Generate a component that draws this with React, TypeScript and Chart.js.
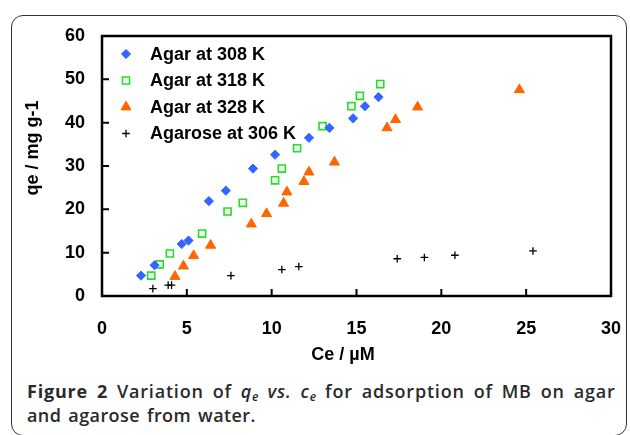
import React, { useEffect, useRef } from 'react';
import { Chart, registerables } from 'chart.js';

Chart.register(...registerables);

const seriesLabels = ['Agar at 308 K', 'Agar at 318 K', 'Agar at 328 K', 'Agarose at 306 K'];
const seriesColors = ['#3366ff', '#22e022', '#ff6600', '#000000'];

const agar308Ce = [2.3, 3.1, 4.7, 5.1, 6.3, 7.3, 8.9, 10.2, 12.2, 13.4, 14.8, 15.5, 16.3];
const agar308Qe = [4.7, 7.1, 12.0, 12.8, 21.9, 24.3, 29.4, 32.6, 36.5, 38.8, 41.0, 43.8, 45.9];

const agar318Ce = [2.9, 3.4, 4.0, 5.9, 7.4, 8.3, 10.2, 10.6, 11.5, 13.0, 14.7, 15.2, 16.4];
const agar318Qe = [4.7, 7.3, 9.8, 14.4, 19.5, 21.5, 26.7, 29.4, 34.1, 39.2, 43.8, 46.2, 48.9];

const agar328Ce = [4.3, 4.8, 5.4, 6.4, 8.8, 9.7, 10.7, 10.9, 11.9, 12.2, 13.7, 16.8, 17.3, 18.6, 24.6];
const agar328Qe = [4.5, 6.9, 9.3, 11.7, 16.6, 19.0, 21.4, 24.0, 26.4, 28.6, 30.9, 38.8, 40.7, 43.6, 47.6];

const agarose306Ce = [3.0, 3.9, 4.1, 7.6, 10.6, 11.6, 17.4, 19.0, 20.8, 25.4];
const agarose306Qe = [1.7, 2.5, 2.5, 4.7, 6.1, 6.8, 8.6, 8.9, 9.4, 10.4];

const xTickValues = [0, 5, 10, 15, 20, 25, 30];
const yTickValues = [0, 10, 20, 30, 40, 50, 60];
const xTitle = 'Ce / µM';
const yTitle = 'qe / mg g-1';

const FONT = '"Liberation Sans", Arial, sans-serif';

function toPoints(xs: number[], ys: number[]) {
  return xs.map((x, i) => ({ x, y: ys[i] }));
}

function drawMarker(ctx: CanvasRenderingContext2D, style: string, x: number, y: number, r: number, fill: string, stroke: string, bw: number) {
  ctx.save();
  ctx.beginPath();
  if (style === 'rectRot') {
    ctx.moveTo(x - r, y); ctx.lineTo(x, y - r); ctx.lineTo(x + r, y); ctx.lineTo(x, y + r); ctx.closePath();
  } else if (style === 'rect') {
    const s = Math.SQRT1_2 * r;
    ctx.rect(x - s, y - s, 2 * s, 2 * s);
  } else if (style === 'triangle') {
    for (let k = 0; k < 3; k++) {
      const a = (k * 2 * Math.PI) / 3;
      const px = x + Math.sin(a) * r;
      const py = y - Math.cos(a) * r;
      if (k === 0) ctx.moveTo(px, py); else ctx.lineTo(px, py);
    }
    ctx.closePath();
  } else if (style === 'cross') {
    ctx.moveTo(x - r, y); ctx.lineTo(x + r, y); ctx.moveTo(x, y - r); ctx.lineTo(x, y + r);
  }
  if (style !== 'cross' && fill !== 'transparent') { ctx.fillStyle = fill; ctx.fill(); }
  ctx.strokeStyle = stroke; ctx.lineWidth = bw; ctx.stroke();
  ctx.restore();
}

const framePlugin = {
  id: 'frameAndLegend',
  afterDraw(chart: any) {
    const { ctx, chartArea: a, scales } = chart;
    ctx.save();
    ctx.strokeStyle = '#000';
    ctx.lineWidth = 2.5;
    ctx.strokeRect(a.left, a.top, a.right - a.left, a.bottom - a.top);
    ctx.lineWidth = 2;
    ctx.beginPath();
    scales.x.ticks.forEach((t: any) => {
      const px = scales.x.getPixelForValue(t.value);
      ctx.moveTo(px, a.bottom); ctx.lineTo(px, a.bottom - 7);
    });
    scales.y.ticks.forEach((t: any) => {
      const py = scales.y.getPixelForValue(t.value);
      ctx.moveTo(a.left, py); ctx.lineTo(a.left + 7, py);
    });
    ctx.stroke();

    ctx.fillStyle = '#000';
    ctx.font = 'bold 18px ' + FONT;
    ctx.textAlign = 'center';
    ctx.textBaseline = 'middle';
    ctx.fillText(xTitle, 343, 355);
    ctx.save();
    ctx.translate(33, 148);
    ctx.rotate(-Math.PI / 2);
    ctx.fillText(yTitle, 0, 0);
    ctx.restore();

    // legend inside plot
    ctx.textAlign = 'left';
    chart.data.datasets.forEach((ds: any, i: number) => {
      const y = a.top + 18 + i * 26.5;
      const x = a.left + 24;
      drawMarker(ctx, ds.pointStyle, x, y, ds.pointRadius, ds.backgroundColor, ds.borderColor, ds.borderWidth);
      ctx.fillStyle = '#000';
      ctx.fillText(ds.label, a.left + 48, y + 1);
    });
    ctx.restore();
  },
};

export default function App() {
  const ref = useRef<HTMLCanvasElement | null>(null);

  useEffect(() => {
    if (!ref.current) return;
    const chart = new Chart(ref.current, {
      type: 'scatter',
      data: {
        datasets: [
          {
            label: seriesLabels[0],
            data: toPoints(agar308Ce, agar308Qe),
            pointStyle: 'rectRot',
            pointRadius: 4.6,
            backgroundColor: seriesColors[0],
            borderColor: seriesColors[0],
            borderWidth: 1,
          },
          {
            label: seriesLabels[1],
            data: toPoints(agar318Ce, agar318Qe),
            pointStyle: 'rect',
            pointRadius: 5,
            backgroundColor: 'transparent',
            borderColor: seriesColors[1],
            borderWidth: 1.6,
          },
          {
            label: seriesLabels[2],
            data: toPoints(agar328Ce, agar328Qe),
            pointStyle: 'triangle',
            pointRadius: 5.8,
            backgroundColor: seriesColors[2],
            borderColor: seriesColors[2],
            borderWidth: 1,
          },
          {
            label: seriesLabels[3],
            data: toPoints(agarose306Ce, agarose306Qe),
            pointStyle: 'cross',
            pointRadius: 3.8,
            backgroundColor: seriesColors[3],
            borderColor: seriesColors[3],
            borderWidth: 1.3,
          },
        ] as any,
      },
      options: {
        animation: false,
        responsive: false,
        layout: { padding: { top: 36, right: 19, left: 0, bottom: 0 } },
        plugins: { legend: { display: false }, tooltip: { enabled: false } },
        scales: {
          x: {
            type: 'linear',
            min: 0,
            max: 30,
            afterBuildTicks: (s: any) => { s.ticks = xTickValues.map((v) => ({ value: v })); },
            afterFit: (s: any) => { s.height = 76; s.paddingLeft = 0; s.paddingRight = 0; },
            grid: { display: false, drawTicks: false },
            border: { display: false },
            ticks: { color: '#000', padding: 22, font: { family: FONT, size: 18, weight: 'bold' } },
          },
          y: {
            type: 'linear',
            min: 0,
            max: 60,
            afterBuildTicks: (s: any) => { s.ticks = yTickValues.map((v) => ({ value: v })); },
            afterFit: (s: any) => { s.width = 102; s.paddingTop = 0; s.paddingBottom = 0; },
            grid: { display: false, drawTicks: false },
            border: { display: false },
            ticks: { color: '#000', padding: 17, font: { family: FONT, size: 18, weight: 'bold' } },
          },
        },
      } as any,
      plugins: [framePlugin],
    });
    return () => chart.destroy();
  }, []);

  const subStyle: React.CSSProperties = { fontSize: 12, verticalAlign: '-3px', lineHeight: 0, letterSpacing: 0 };

  return (
    <div style={{ position: 'absolute', left: 0, top: 0, width: 630, height: 435, overflow: 'hidden', background: '#fff' }}>
      <div
        style={{
          position: 'absolute', left: 11, top: 15, width: 616, height: 421,
          border: '1.5px solid #333', borderRadius: 12, boxSizing: 'border-box',
        }}
      />
      <canvas ref={ref} width={630} height={372} style={{ position: 'absolute', left: 0, top: 0, width: 630, height: 372 }} />
      <div
        style={{
          position: 'absolute', left: 27, top: 379, width: 600, whiteSpace: 'nowrap',
          fontFamily: '"Open Sans", "Noto Sans", sans-serif', fontSize: 18, fontWeight: 600,
          letterSpacing: '0.8px', wordSpacing: '3.5px', lineHeight: '24px', color: '#2a2a2a',
        }}
      >
        <span style={{ fontWeight: 700 }}>Figure 2</span> Variation of <i>q<sub style={subStyle}>e</sub></i>{' '}
        <i>vs.</i> <i>c<sub style={subStyle}>e</sub></i> for adsorption of MB on agar
        <br />
        <span style={{ letterSpacing: '0.4px', wordSpacing: '2px' }}>and agarose from water.</span>
      </div>
    </div>
  );
}
